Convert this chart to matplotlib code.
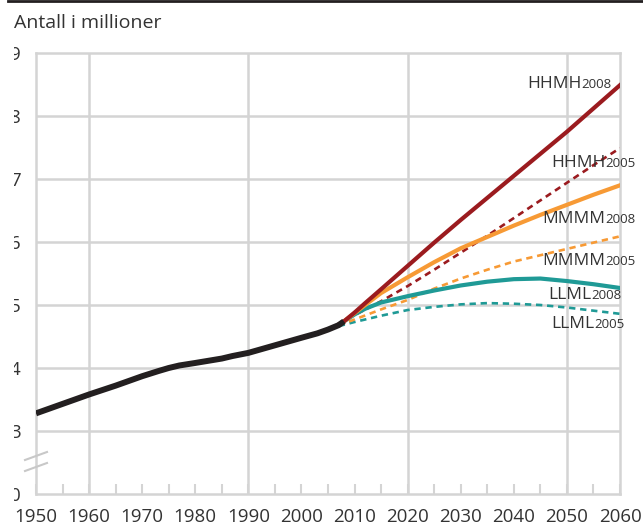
import matplotlib
matplotlib.use("Agg")
import matplotlib.pyplot as plt
from matplotlib.lines import Line2D
from matplotlib.patches import Rectangle

plt.rcParams['font.family'] = ['Open Sans', 'DejaVu Sans']

# historical population (millions)
hist_years = [1950, 1955, 1960, 1965, 1970, 1973, 1975, 1977, 1980, 1985, 1987, 1990,
              1995, 2000, 2003, 2005, 2007, 2008]
hist_pop = [3.28, 3.43, 3.58, 3.72, 3.87, 3.95, 4.00, 4.04, 4.08, 4.15, 4.19, 4.24,
            4.36, 4.48, 4.55, 4.61, 4.68, 4.74]

# 2008 projections
proj08_years = [2008, 2010, 2012, 2015, 2020, 2025, 2030, 2035, 2040, 2045, 2050, 2055, 2060]
hhmh_2008 = [4.74, 4.88, 5.03, 5.25, 5.62, 5.99, 6.35, 6.70, 7.05, 7.40, 7.75, 8.12, 8.49]
mmmm_2008 = [4.74, 4.87, 5.00, 5.19, 5.44, 5.68, 5.90, 6.08, 6.26, 6.43, 6.59, 6.75, 6.90]
llml_2008 = [4.74, 4.85, 4.94, 5.04, 5.14, 5.23, 5.31, 5.37, 5.41, 5.42, 5.38, 5.33, 5.27]

# 2005 projections
proj05_years = [2005, 2010, 2015, 2020, 2025, 2030, 2035, 2040, 2045, 2050, 2055, 2060]
hhmh_2005 = [4.62, 4.84, 5.06, 5.30, 5.56, 5.83, 6.10, 6.38, 6.66, 6.94, 7.22, 7.49]
mmmm_2005 = [4.62, 4.77, 4.93, 5.08, 5.26, 5.42, 5.56, 5.69, 5.79, 5.89, 5.99, 6.09]
llml_2005 = [4.62, 4.73, 4.83, 4.92, 4.97, 5.01, 5.03, 5.02, 5.00, 4.96, 4.91, 4.86]

ytick_pos = [2, 3, 4, 5, 6, 7, 8, 9]
ytick_labels = ['0', '3', '4', '5', '6', '7', '8', '9']
xtick_years = list(range(1950, 2061, 10))
grid_years = [1960, 1990, 2020, 2050]

RED = '#9b1b1f'
ORANGE = '#f79a35'
TEAL = '#1f9a96'
BLACK = '#231f20'
GRID = '#d4d4d4'
TXT = '#333333'

W, H = 643, 526
fig = plt.figure(figsize=(W / 100, H / 100), dpi=100)
ax = fig.add_axes([36 / W, 32 / H, (620 - 36) / W, (473 - 32) / H])

ax.set_xlim(1950, 2060)
ax.set_ylim(2, 9)

for y in ytick_pos[1:-1]:
    ax.axhline(y, color=GRID, lw=1.8, zorder=1)
for x in grid_years:
    ax.axvline(x, color=GRID, lw=1.8, zorder=1)
for s in ax.spines.values():
    s.set_color(GRID)
    s.set_linewidth(1.8)

ax.set_yticks(ytick_pos)
ax.set_yticklabels(ytick_labels)
ax.tick_params(axis='y', length=0, pad=11, labelsize=13.5, labelcolor=TXT)
ax.set_xticks(xtick_years)
ax.set_xticks(range(1955, 2060, 10), minor=True)
ax.tick_params(axis='x', which='both', direction='in', length=7, width=1.5,
               color=GRID, pad=10, labelsize=13.5, labelcolor=TXT)

# lines
dash = (0, (2.4, 1.8))
ax.plot(proj05_years, llml_2005, color=TEAL, lw=1.9, ls=dash, zorder=3)
ax.plot(proj05_years, mmmm_2005, color=ORANGE, lw=1.9, ls=dash, zorder=3)
ax.plot(proj05_years, hhmh_2005, color=RED, lw=1.9, ls=dash, zorder=3)
ax.plot(proj08_years, llml_2008, color=TEAL, lw=3, zorder=4)
ax.plot(proj08_years, mmmm_2008, color=ORANGE, lw=3, zorder=4)
ax.plot(proj08_years, hhmh_2008, color=RED, lw=3, zorder=4)
ax.plot(hist_years, hist_pop, color=BLACK, lw=4.3, solid_capstyle='butt', zorder=5)

# right-hand labels: (name, year, left px, baseline px)
labels = [('HHMH', '2008', 527, 88), ('HHMH', '2005', 551, 167),
          ('MMMM', '2008', 542, 223), ('MMMM', '2005', 542, 265),
          ('LLML', '2008', 548, 299), ('LLML', '2005', 551, 328)]
for name, yr, px, py in labels:
    t = fig.text(px / W, 1 - py / H, name, fontsize=12.5, color=TXT,
                 ha='left', va='baseline', zorder=6)
    fig.canvas.draw()
    bb = t.get_window_extent()
    fig.text(bb.x1 / W, 1 - py / H, yr, fontsize=9.5, color=TXT,
             ha='left', va='baseline', zorder=6)

# axis break marks
for dy in (0, 11):
    fig.add_artist(Line2D([25 / W, 47 / W], [1 - (460 + dy) / H, 1 - (452 + dy) / H],
                          color='#c8c8c8', lw=1.5))

# title and top rule
fig.text(14 / W, 1 - 28 / H, 'Antall i millioner', fontsize=14, color=TXT,
         ha='left', va='baseline')
fig.add_artist(Line2D([8 / W, 1], [1 - 1.2 / H] * 2, color=BLACK, lw=2))

# the reference is cut at the left edge
cover = Rectangle((0, 4 / H), 13.5 / W, 0.95 - 4 / H, transform=fig.transFigure,
                  facecolor='white', edgecolor='none', zorder=20)
fig.add_artist(cover)

fig.savefig('out.png', dpi=100)
